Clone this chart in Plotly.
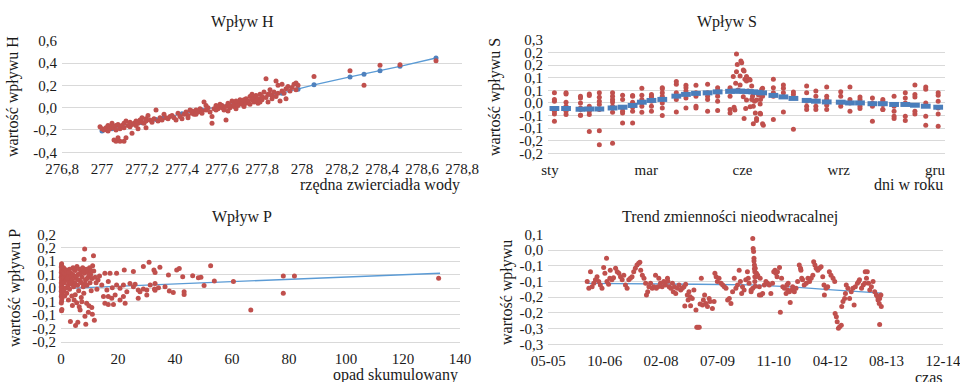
import plotly.graph_objects as go
import pandas as pd

# ---------------- Wpływ H ----------------
h_x = [276.99, 277.00, 277.01, 277.02, 277.03, 277.03, 277.04, 277.05, 277.05, 277.06,
       277.07, 277.07, 277.08, 277.09, 277.09, 277.10, 277.11, 277.11, 277.12, 277.13,
       277.14, 277.14, 277.15, 277.16, 277.17, 277.17, 277.18, 277.19, 277.20, 277.20,
       277.21, 277.22, 277.22, 277.23, 277.24, 277.25, 277.26, 277.27, 277.28, 277.29,
       277.06, 277.07, 277.09, 277.11, 277.08, 277.12, 277.15, 277.18, 277.22,
       277.30, 277.31, 277.32, 277.33, 277.34, 277.35, 277.36, 277.37, 277.38, 277.39,
       277.40, 277.41, 277.42, 277.43, 277.44, 277.45, 277.45, 277.46, 277.47, 277.48,
       277.49, 277.50, 277.50, 277.51, 277.52, 277.53, 277.54, 277.55, 277.55, 277.56,
       277.57, 277.58, 277.58, 277.59, 277.60, 277.60, 277.61, 277.62, 277.62, 277.63,
       277.64, 277.64, 277.65, 277.66, 277.66, 277.67, 277.68, 277.68, 277.69, 277.70,
       277.70, 277.71, 277.72, 277.72, 277.73, 277.74, 277.74, 277.75, 277.76, 277.76,
       277.77, 277.77, 277.78, 277.78, 277.79, 277.80, 277.80, 277.81, 277.82, 277.82,
       277.83, 277.83, 277.84, 277.85, 277.85, 277.86, 277.87, 277.87, 277.88, 277.88,
       277.89, 277.90, 277.90, 277.91, 277.92, 277.92, 277.93, 277.94, 277.95, 277.96,
       277.97, 277.97, 277.98,
       277.43, 277.47, 277.52, 277.57, 277.63, 277.67, 277.71, 277.75, 277.79, 277.84,
       278.06, 278.24, 278.31, 278.39, 278.49, 278.67]
h_y = [-0.17, -0.19, -0.20, -0.18, -0.16, -0.21, -0.19, -0.17, -0.14, -0.18,
       -0.16, -0.20, -0.15, -0.17, -0.19, -0.16, -0.18, -0.14, -0.12, -0.16,
       -0.13, -0.17, -0.15, -0.14, -0.16, -0.12, -0.14, -0.11, -0.13, -0.09,
       -0.14, -0.10, -0.12, -0.07, -0.11, -0.13, -0.10, -0.02, -0.12, -0.09,
       -0.29, -0.30, -0.30, -0.30, -0.27, -0.27, -0.23, -0.19, -0.18,
       -0.11, -0.06, -0.09, -0.10, -0.08, -0.07, -0.09, -0.11, -0.05, -0.08,
       -0.10, -0.06, -0.04, -0.07, -0.02, -0.05, -0.03, -0.06, -0.02, -0.04,
       -0.01, -0.03, -0.05, 0.05, -0.02, 0.00, -0.04, -0.08, -0.14, -0.01,
       -0.02, 0.01, -0.01, 0.03, 0.00, 0.02, -0.02, -0.11, 0.01, 0.04,
       0.00, 0.02, 0.06, 0.01, 0.03, -0.01, 0.04, 0.02, 0.07, 0.03,
       0.05, 0.01, 0.08, 0.04, 0.06, 0.03, 0.10, 0.07, 0.05, 0.09,
       0.11, 0.06, 0.08, 0.04, 0.12, 0.10, 0.07, 0.14, 0.09, 0.26,
       0.12, 0.05, 0.16, 0.11, 0.08, 0.14, 0.24, 0.10, 0.13, 0.20,
       0.06, 0.15, 0.21, 0.13, 0.17, 0.08, 0.19, 0.15, 0.18, 0.21,
       0.22, 0.16, 0.20,
       -0.09, -0.06, 0.02, 0.02, -0.03, 0.06, 0.07, 0.12, 0.05, 0.12,
       0.28, 0.33, 0.20, 0.38, 0.385, 0.42]
h_fit_x = [277.0, 277.05, 277.1, 277.2, 277.27, 277.31, 277.4, 277.5, 277.6, 277.7,
           277.8, 277.9, 277.98, 278.06, 278.24, 278.31, 278.39, 278.49, 278.67]
h_fit_y = [-0.21, -0.19, -0.17, -0.135, -0.105, -0.09, -0.055, -0.02, 0.015, 0.055,
           0.09, 0.13, 0.165, 0.205, 0.275, 0.30, 0.33, 0.37, 0.445]
h_xticks = [276.8, 277.0, 277.2, 277.4, 277.6, 277.8, 278.0, 278.2, 278.4, 278.6, 278.8]
h_xtext = ["276,8", "277", "277,2", "277,4", "277,6", "277,8", "278", "278,2", "278,4", "278,6", "278,8"]
h_yticks = [-0.4, -0.2, 0.0, 0.2, 0.4, 0.6]
h_ytext = ["-0,4", "-0,2", "0,0", "0,2", "0,4", "0,6"]

# ---------------- Wpływ S (category index, ~99 categories over the year) ----------------
s_cols = [1.6, 4.5, 8.1, 10.3, 12.8, 16.1, 18.6, 21.1, 23.4, 25.8, 28.5, 32.0, 34.4, 36.9,
          39.8, 42.3, 45.4, 56.2, 58.7, 61.2, 64.5, 66.8, 69.5, 73.0, 75.3, 77.8, 80.9,
          83.5, 86.3, 89.1, 91.5, 94.2, 97.3]
s_vals = [[0.04, 0.014, 0.007, -0.022, -0.033, -0.044, -0.073],
          [0.04, 0.036, 0.003, -0.013, -0.033, -0.046],
          [0.027, 0.02, 0.0, -0.02, -0.026, -0.049, -0.049],
          [0.036, 0.03, -0.013, -0.033, -0.046, -0.113],
          [0.04, 0.023, 0.007, -0.006, -0.026, -0.11, -0.166],
          [0.04, 0.027, 0.014, 0.004, -0.013, -0.037, -0.16],
          [0.031, 0.014, -0.02, -0.033, -0.04, -0.08],
          [0.03, 0.027, 0.003, -0.017, -0.033, -0.08],
          [0.058, 0.031, 0.014, 0.0, -0.013, -0.037],
          [0.034, 0.027, 0.02, 0.007, -0.013, -0.033],
          [0.06, 0.056, 0.04, 0.027, 0.0, -0.02, -0.05],
          [0.085, 0.074, 0.04, 0.027, 0.014, -0.036],
          [0.07, 0.06, 0.047, 0.02, -0.02],
          [0.07, 0.04, 0.027, -0.013, -0.02],
          [0.074, 0.04, 0.027, 0.014, -0.033],
          [0.06, 0.05, 0.04, 0.027, 0.007, -0.03],
          [0.06, 0.054, 0.027, -0.026, -0.04],
          [0.094, 0.06, 0.04, 0.027, -0.066],
          [0.071, 0.058, 0.04, -0.036],
          [0.043, 0.034, -0.104],
          [0.067, 0.04, 0.007, -0.013, -0.026],
          [0.047, 0.027, 0.007, -0.013, -0.026],
          [0.063, 0.027, 0.014, -0.009, -0.026],
          [0.044, 0.027, 0.0, -0.013],
          [0.063, 0.014, 0.0, -0.033],
          [0.024, 0.014, 0.004, -0.013, -0.022],
          [0.02, 0.0, -0.013, -0.073],
          [0.014, 0.007, -0.006, -0.026, -0.026],
          [0.027, -0.013, -0.033, -0.053, -0.062],
          [0.04, 0.02, 0.0, -0.053, -0.07],
          [0.071, 0.034, 0.024, -0.033, -0.044],
          [0.063, 0.054, 0.0, -0.053, -0.089],
          [0.04, 0.031, 0.007, -0.02, -0.044, -0.093]]
s_peak_x = [46.2, 46.4, 46.6, 46.8, 47.0, 47.0, 47.2, 47.4, 47.9, 47.9, 48.1, 48.3, 48.7, 48.7,
            48.9, 48.9, 49.1, 49.3, 49.5, 49.5, 49.5, 49.9, 50.2, 50.4, 50.4, 50.8, 50.8, 51.0,
            51.2, 51.2, 51.2, 51.5, 51.7, 52.0, 52.0, 52.0, 52.5, 52.9, 52.9, 53.0, 53.0, 53.3,
            53.5, 53.5, 53.5, 53.7]
s_peak_y = [0.105, -0.017, -0.028, 0.078, 0.194, 0.124, 0.153, 0.051, 0.107, 0.071, 0.167, 0.16,
            0.131, 0.025, 0.127, -0.062, 0.094, -0.022, 0.105, 0.012, 0.087, 0.047, 0.094, 0.091,
            -0.015, 0.067, 0.014, 0.027, 0.038, -0.013, -0.083, 0.007, -0.04, 0.012, -0.062, -0.07,
            0.032, -0.041, -0.004, 0.014, -0.044, 0.054, 0.058, 0.027, -0.083, -0.089]
s_fit_x = [1.6, 4.5, 8.1, 10.3, 12.8, 16.1, 18.6, 21.1, 23.4, 25.8, 28.5, 32.0, 34.4, 36.9,
           39.8, 42.3, 45.4, 46.8, 47.9, 49.0, 50.1, 51.2, 52.3, 53.4, 56.2, 58.7, 61.2, 64.5,
           66.8, 69.5, 73.0, 75.3, 77.8, 80.9, 83.5, 86.3, 89.1, 91.5, 94.2, 97.3]
s_fit_y = [-0.022, -0.022, -0.025, -0.024, -0.024, -0.02, -0.017, -0.01, 0.003, 0.01, 0.014,
           0.027, 0.034, 0.038, 0.04, 0.044, 0.046, 0.047, 0.047, 0.046, 0.045, 0.044, 0.042,
           0.04, 0.03, 0.024, 0.018, 0.01, 0.007, 0.004, 0.003, 0.0, 0.0, -0.003, -0.003,
           -0.006, -0.006, -0.009, -0.013, -0.017]
s_xticks = [0.5, 24.5, 48.5, 72.5, 96.5]
s_xtext = ["sty", "mar", "cze", "wrz", "gru"]
s_yticks = [-0.2, -0.15, -0.1, -0.05, 0.0, 0.05, 0.1, 0.15, 0.2, 0.25]
s_ytext = ["-0,2", "-0,2", "-0,1", "-0,1", "0,0", "0,1", "0,1", "0,2", "0,2", "0,3"]

# ---------------- Wpływ P ----------------
p_x = [0.2, 0.2, 0.1, 0.3, 0.2, 0.1, 0.3, 0.2, 0.1, 0.3, 0.2, 0.1, 0.3, 0.2, 0.1, 0.3, 0.2,
       0.1, 0.3, 0.2, 0.1, 0.3, 0.2, 0.1, 0.3, 0.2,
       0.8, 1.0, 1.2, 1.0, 1.3, 0.9, 1.5, 1.6, 1.8, 2.0, 2.1, 2.3, 2.5, 2.6, 2.8, 3.0, 3.0,
       3.2, 3.3, 3.5, 3.6, 3.8, 3.9, 4.0, 4.2, 4.4, 4.5, 4.6, 4.8, 5.0, 5.0, 5.1, 5.3, 5.5,
       5.6, 5.8, 5.9, 6.0, 6.2, 6.4, 6.5, 6.7, 6.8, 7.0, 7.1, 7.3, 7.4, 7.6, 7.8, 8.0, 8.1,
       8.2, 8.3, 8.4, 8.6, 8.7, 8.8, 9.0, 9.1, 9.3, 9.5, 9.6, 9.8, 10.0, 10.2, 10.4, 10.6,
       10.8, 10.9, 11.0, 11.1, 11.4, 11.5, 11.7, 12.0, 12.3, 12.6, 13.0, 13.5,
       1.1, 1.7, 2.2, 2.7, 3.4, 4.1, 4.7, 5.4, 6.1, 6.6, 7.2, 7.9, 8.5, 9.2, 9.9, 10.5,
       14.3, 14.9, 15.4, 15.4, 16.1, 16.6, 16.6, 16.6, 17.2, 17.8, 18.0, 18.4, 19.0, 19.5,
       19.5, 20.7, 20.7, 21.9, 21.9, 22.2, 22.5, 23.1, 24.2, 25.4, 25.4, 26.0, 27.1, 27.1,
       27.7, 28.9, 28.9, 30.1, 30.1, 30.9, 31.3, 32.6, 32.8, 33.0, 33.0, 33.0, 34.2, 34.7,
       36.5, 37.7, 38.0, 39.4, 40.6, 41.5, 42.7, 43.2, 43.2, 46.2, 48.2, 49.1, 50.2, 52.5,
       53.8, 60.5, 66.6, 78.0, 78.0, 81.9, 132.5]
p_y = [0.09, 0.085, 0.078, 0.07, 0.065, 0.058, 0.05, 0.045, 0.04, 0.033, 0.028, 0.02, 0.015,
       0.01, 0.004, 0.0, -0.005, -0.012, -0.018, -0.025, -0.032, -0.04, -0.048, -0.056, -0.08,
       -0.085,
       0.06, 0.04, 0.02, -0.01, -0.03, 0.075, 0.05, 0.0, 0.03, -0.02, 0.065, 0.045, 0.01,
       -0.045, 0.025, 0.07, -0.005, 0.04, -0.125, 0.055, 0.015, -0.03, 0.03, -0.065, 0.075,
       0.005, 0.045, -0.045, 0.02, 0.065, -0.025, -0.14, 0.035, -0.055, 0.08, 0.01, -0.128,
       0.05, -0.01, -0.07, 0.07, -0.082, 0.025, 0.06, -0.035, -0.051, 0.04, 0.075, 0.005,
       -0.02, 0.107, 0.055, 0.145, -0.105, 0.03, -0.135, 0.07, -0.057, 0.01, 0.06, 0.04, -0.09,
       -0.066, 0.075, 0.02, 0.05, -0.01, -0.073, 0.035, -0.098, 0.083, 0.12, 0.063, -0.12,
       0.04, 0.02, -0.005, 0.03, 0.045,
       0.055, 0.068, 0.035, 0.058, 0.02, 0.05, 0.068, 0.045, 0.03, 0.052, 0.02, 0.06, 0.015,
       0.035, 0.05, 0.065,
       0.011, -0.032, 0.055, -0.057, -0.007, 0.024, -0.032, -0.061, 0.055, -0.038, 0.001,
       -0.061, -0.026, 0.055, 0.011, -0.001, -0.045, 0.011, -0.032, 0.067, -0.057, -0.014,
       0.017, 0.061, 0.005, 0.014, -0.007, -0.038, -0.014, 0.08, -0.004, -0.007, -0.026,
       0.096, 0.011, 0.067, -0.004, 0.058, 0.017, -0.008, 0.001, 0.077, 0.005, 0.048, -0.011,
       -0.017, 0.067, 0.073, 0.042, -0.014, -0.024, 0.046, 0.038, 0.04, 0.009, 0.083, 0.026,
       0.024, -0.082, 0.045, -0.02, 0.045, 0.036]
p_fit_x = [0.0, 133.0]
p_fit_y = [-0.002, 0.055]
p_xticks = [0, 20, 40, 60, 80, 100, 120, 140]
p_xtext = ["0", "20", "40", "60", "80", "100", "120", "140"]
p_yticks = [-0.2, -0.15, -0.1, -0.05, 0.0, 0.05, 0.1, 0.15, 0.2]
p_ytext = ["-0,2", "-0,2", "-0,1", "-0,1", "0,0", "0,1", "0,1", "0,2", "0,2"]

# ---------------- Trend zmienności nieodwracalnej (decimal years) ----------------
t_year = [2006.35, 2006.39, 2006.43, 2006.47, 2006.51, 2006.55, 2006.59, 2006.63, 2006.67, 2006.71,
          2006.75, 2006.78, 2006.82, 2006.83, 2006.87, 2006.90, 2006.91, 2006.95, 2006.99, 2007.04,
          2007.08, 2007.12, 2007.16, 2007.20, 2007.24, 2007.28, 2007.32, 2007.36, 2007.40, 2007.44,
          2007.48, 2007.52, 2007.56, 2007.60, 2007.63, 2007.65, 2007.69, 2007.73, 2007.77, 2007.79,
          2007.82, 2007.85, 2007.89, 2007.93, 2007.97, 2008.01, 2008.03, 2008.07, 2008.09, 2008.13,
          2008.17, 2008.21, 2008.25, 2008.30, 2008.31, 2008.34, 2008.38, 2008.42, 2008.44, 2008.47,
          2008.50, 2008.54, 2008.58, 2008.62, 2008.66, 2008.70, 2008.72, 2008.74, 2008.78, 2008.80,
          2008.82, 2008.85, 2008.86, 2008.90, 2008.94, 2008.99, 2009.01, 2009.04, 2009.07, 2009.09,
          2009.12, 2009.15, 2009.17, 2009.20, 2009.23, 2009.27, 2009.31, 2009.33, 2009.39, 2009.43,
          2009.45, 2009.48, 2009.51, 2009.55, 2009.60, 2009.64, 2009.68, 2009.72, 2009.76, 2009.80,
          2009.84, 2009.88, 2009.92, 2009.96, 2010.00, 2010.04, 2010.07, 2010.10, 2010.12, 2010.16,
          2010.20, 2010.24, 2010.26, 2010.28, 2010.33, 2010.37, 2010.38, 2010.39, 2010.40, 2010.41,
          2010.42, 2010.42, 2010.43, 2010.46, 2010.49, 2010.53, 2010.55, 2010.40, 2010.41, 2010.42,
          2010.43, 2010.45, 2010.33, 2010.37, 2010.53, 2010.57, 2010.61, 2010.65, 2010.69, 2010.73,
          2010.77, 2010.81, 2010.85, 2010.88, 2010.91, 2010.93, 2010.96, 2010.97, 2011.02, 2011.04,
          2011.07, 2011.10, 2011.14, 2011.18, 2011.20, 2011.22, 2011.23, 2011.26, 2011.28, 2011.32,
          2011.34, 2011.38, 2011.42, 2011.46, 2011.50, 2011.53, 2011.54, 2011.56, 2011.58, 2011.62,
          2011.67, 2011.71, 2011.75, 2011.79, 2011.83, 2011.85, 2011.88, 2011.91, 2011.95, 2011.99,
          2012.03, 2012.07, 2012.10, 2012.11, 2012.15, 2012.19, 2012.23, 2012.27, 2012.32, 2012.36,
          2012.37, 2012.40, 2012.42, 2012.45, 2012.48, 2012.52, 2012.53, 2012.56, 2012.60, 2012.62,
          2012.64, 2012.68, 2012.72, 2012.76, 2012.80, 2012.83, 2012.86, 2012.91, 2012.94, 2012.96,
          2013.01, 2013.05, 2013.09, 2013.10, 2013.13, 2013.15, 2013.18, 2013.21, 2013.25, 2013.29,
          2013.33, 2013.37, 2013.40, 2013.41, 2013.44, 2013.45, 2013.48, 2013.49, 2013.45]
t_val = [-0.100, -0.122, -0.069, -0.117, -0.106, -0.095, -0.085, -0.100, -0.111, -0.122,
         -0.056, -0.074, -0.026, -0.100, -0.109, -0.090, -0.064, -0.095, -0.088, -0.058,
         -0.069, -0.074, -0.085, -0.095, -0.080, -0.111, -0.122, -0.095, -0.090, -0.085,
         -0.069, -0.058, -0.048, -0.042, -0.039, -0.064, -0.080, -0.090, -0.106, -0.143,
         -0.133, -0.117, -0.106, -0.122, -0.117, -0.080, -0.122, -0.117, -0.090, -0.106,
         -0.117, -0.100, -0.111, -0.090, -0.099, -0.117, -0.122, -0.106, -0.133, -0.117,
         -0.138, -0.122, -0.111, -0.127, -0.122, -0.117, -0.178, -0.109, -0.143, -0.159,
         -0.133, -0.149, -0.177, -0.154, -0.127, -0.191, -0.246, -0.246, -0.246, -0.172,
         -0.090, -0.175, -0.159, -0.143, -0.170, -0.180, -0.154, -0.164, -0.186, -0.164,
         -0.074, -0.085, -0.100, -0.090, -0.106, -0.111, -0.117, -0.122, -0.159, -0.154,
         -0.170, -0.133, -0.090, -0.122, -0.111, -0.064, -0.100, -0.138, -0.117, -0.127,
         -0.095, -0.069, -0.090, -0.106, -0.127, 0.037, 0.005, -0.005, -0.026, -0.048,
         -0.069, -0.085, -0.058, -0.074, -0.080, -0.143, -0.090, -0.035, -0.060, -0.100,
         -0.115, -0.085, -0.133, -0.122, -0.117, -0.143, -0.138, -0.111, -0.100, -0.106,
         -0.111, -0.138, -0.106, -0.069, -0.064, -0.074, -0.085, -0.069, -0.056, -0.198,
         -0.090, -0.117, -0.122, -0.138, -0.111, -0.127, -0.106, -0.133, -0.167, -0.127,
         -0.117, -0.133, -0.122, -0.100, -0.048, -0.058, -0.064, -0.090, -0.095, -0.111,
         -0.106, -0.090, -0.100, -0.090, -0.080, -0.037, -0.048, -0.058, -0.064, -0.058,
         -0.053, -0.085, -0.111, -0.143, -0.122, -0.117, -0.069, -0.080, -0.090, -0.100,
         -0.202, -0.212, -0.228, -0.249, -0.244, -0.239, -0.180, -0.164, -0.154, -0.138,
         -0.111, -0.122, -0.154, -0.133, -0.122, -0.175, -0.117, -0.106, -0.100, -0.095,
         -0.122, -0.111, -0.106, -0.069, -0.090, -0.069, -0.106, -0.127, -0.117, -0.100,
         -0.133, -0.143, -0.149, -0.159, -0.170, -0.154, -0.143, -0.180, -0.237]
t_fit_year = [2006.35, 2008.90, 2009.00, 2010.33, 2011.30, 2012.30, 2013.50]
t_fit_val = [-0.106, -0.107, -0.109, -0.111, -0.117, -0.127, -0.137]
t_start = "2005-05-29"
t_step_days = 500
t_nticks = 8
t_yticks = [-0.3, -0.25, -0.2, -0.15, -0.1, -0.05, 0.0, 0.05]
t_ytext = ["-0,3", "-0,3", "-0,2", "-0,2", "-0,1", "-0,1", "0,0", "0,1"]


def year_to_date(yrs):
    out = []
    for v in yrs:
        y = int(v)
        start = pd.Timestamp(year=y, month=1, day=1)
        end = pd.Timestamp(year=y + 1, month=1, day=1)
        out.append(start + (end - start) * (v - y))
    return out


RED = "#C0504D"
BLUE = "#5B9BD5"
DBLUE = "#4A7EBB"
GRID = "#D9D9D9"
FONT = "Liberation Serif, Tinos, DejaVu Serif, serif"
TXT = "#1a1a1a"
W, H = 960, 382

fig = go.Figure()

# H
fig.add_trace(go.Scatter(x=h_fit_x, y=h_fit_y, mode="lines+markers", xaxis="x", yaxis="y",
                         line=dict(color=BLUE, width=1.3), marker=dict(color="#4F81BD", size=5),
                         cliponaxis=False))
fig.add_trace(go.Scatter(x=h_x, y=h_y, mode="markers", xaxis="x", yaxis="y",
                         marker=dict(color=RED, size=5), cliponaxis=False))
# S
sx, sy = [], []
for c, vals in zip(s_cols, s_vals):
    for v in vals:
        sx.append(c)
        sy.append(v)
sx += s_peak_x
sy += s_peak_y
fig.add_trace(go.Scatter(x=sx, y=sy, mode="markers", xaxis="x2", yaxis="y2",
                         marker=dict(color=RED, size=5), cliponaxis=False))
fig.add_trace(go.Scatter(x=s_fit_x, y=s_fit_y, mode="markers", xaxis="x2", yaxis="y2",
                         marker=dict(symbol="line-ew", size=7, line=dict(width=5, color=DBLUE)),
                         cliponaxis=False))
# P
fig.add_trace(go.Scatter(x=p_fit_x, y=p_fit_y, mode="lines", xaxis="x3", yaxis="y3",
                         line=dict(color=BLUE, width=1.3)))
fig.add_trace(go.Scatter(x=p_x, y=p_y, mode="markers", xaxis="x3", yaxis="y3",
                         marker=dict(color=RED, size=5), cliponaxis=False))
# Trend
fig.add_trace(go.Scatter(x=year_to_date(t_fit_year), y=t_fit_val, mode="lines", xaxis="x4", yaxis="y4",
                         line=dict(color=BLUE, width=1.3)))
fig.add_trace(go.Scatter(x=year_to_date(t_year), y=t_val, mode="markers", xaxis="x4", yaxis="y4",
                         marker=dict(color=RED, size=5), cliponaxis=False))

t0 = pd.Timestamp(t_start)
t_ticks = [t0 + pd.Timedelta(days=t_step_days * k) for k in range(t_nticks)]
t_tick_text = [d.strftime("%m-%y") for d in t_ticks]
t_range = [t_ticks[0] - pd.Timedelta(hours=2), t_ticks[-1] + pd.Timedelta(hours=2)]

tickfont = dict(family=FONT, size=15, color=TXT)


def xax(domain, anchor, rng, tv, tt, **kw):
    d = dict(domain=domain, anchor=anchor, range=rng, tickvals=tv, ticktext=tt,
             showgrid=False, zeroline=False, showline=True, linecolor=GRID, linewidth=1,
             ticks="", tickfont=tickfont, ticklabelstandoff=3, automargin=False,
             ticklabeloverflow="allow")
    d.update(kw)
    return d


def yax(domain, anchor, rng, tv, tt):
    return dict(domain=domain, anchor=anchor, range=rng, tickvals=tv, ticktext=tt,
                showgrid=True, gridcolor=GRID, gridwidth=1, zeroline=False,
                showline=False, ticks="", tickfont=tickfont, ticklabelstandoff=4,
                automargin=False, ticklabeloverflow="allow")


def px(v, axis):
    return v / W if axis == "x" else 1 - v / H


layout = dict(
    width=W, height=H, margin=dict(l=0, r=0, t=0, b=0),
    paper_bgcolor="white", plot_bgcolor="white", showlegend=False,
    font=dict(family=FONT, color=TXT),
    xaxis=xax([px(62, "x"), px(462, "x")], "y", [276.8, 278.8], h_xticks, h_xtext),
    yaxis=yax([px(152.3, "y"), px(40.7, "y")], "x", [-0.4, 0.6], h_yticks, h_ytext),
    xaxis2=xax([px(548, "x"), px(945, "x")], "y2", [0, 99], s_xticks, s_xtext),
    yaxis2=yax([px(153.3, "y"), px(40, "y")], "x2", [-0.2, 0.25], s_yticks, s_ytext),
    xaxis3=xax([px(61, "x"), px(460, "x")], "y3", [0, 140], p_xticks, p_xtext),
    yaxis3=yax([px(341.7, "y"), px(234.3, "y")], "x3", [-0.2, 0.2], p_yticks, p_ytext),
    xaxis4=xax([px(548.3, "x"), px(943, "x")], "y4", t_range, t_ticks, t_tick_text, type="date"),
    yaxis4=yax([px(344.3, "y"), px(234.3, "y")], "x4", [-0.3, 0.05], t_yticks, t_ytext),
)
fig.update_layout(**layout)


def ann(text, x, y, size, xanchor="center", yanchor="middle", angle=0):
    fig.add_annotation(text=text, x=px(x, "x"), y=px(y, "y"), xref="paper", yref="paper",
                       showarrow=False, xanchor=xanchor, yanchor=yanchor, textangle=angle,
                       font=dict(family=FONT, size=size, color=TXT))


ann("Wpływ H", 242, 22, 16)
ann("Wpływ S", 727, 22, 16)
ann("Wpływ P", 242, 217, 16)
ann("Trend zmienności nieodwracalnej", 730, 217, 16)
ann("wartość wpływu H", 13, 97, 16, angle=-90)
ann("wartość wpływu S", 495, 97, 16, angle=-90)
ann("wartość wpływu P", 15, 288, 16, angle=-90)
ann("wartość wpływu", 507, 292, 16, angle=-90)
ann("rzędna zwierciadła wody", 462, 185, 16, xanchor="right")
ann("dni w roku", 945, 185, 16, xanchor="right")
ann("opad skumulowany", 460, 375, 16, xanchor="right")
ann("czas", 945, 367, 16, xanchor="right", yanchor="top")

fig.write_html(
    "out.html",
    config={"displayModeBar": False},
    post_script="document.body.style.margin='0';document.body.style.padding='0';"
                "document.documentElement.style.margin='0';",
)
